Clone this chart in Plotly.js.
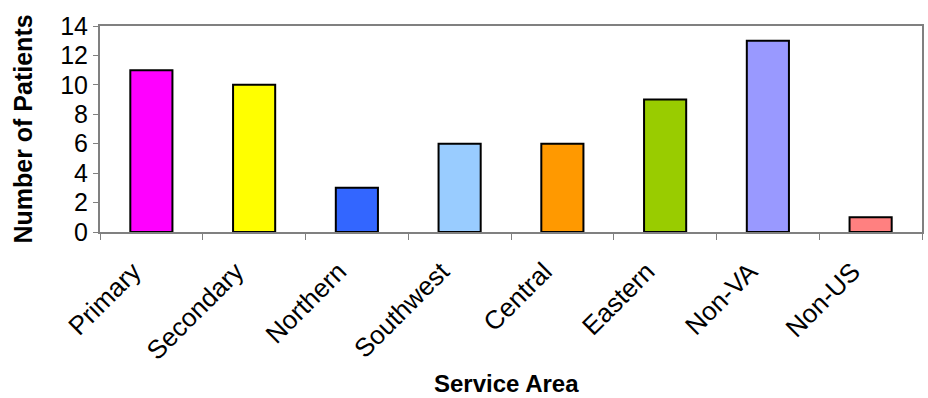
<!DOCTYPE html>
<html><head><meta charset="utf-8">
<script src="https://cdn.plot.ly/plotly-3.0.1.min.js"></script>
<style>html,body{margin:0;padding:0;background:#fff}#chart{width:928px;height:398px}</style>
</head><body><div id="chart"></div>
<script>
const categories = ["Primary","Secondary","Northern","Southwest","Central","Eastern","Non-VA","Non-US"];
const patients = [11,10,3,6,6,9,13,1];
const barColors = ["#FF00FF","#FFFF00","#3366FF","#99CCFF","#FF9900","#99CC00","#9999FF","#FF8080"];
const yTicks = [0,2,4,6,8,10,12,14];
const xTitle = "Service Area";
const yTitle = "Number of Patients";

const font = "Arial, 'Liberation Sans', sans-serif";
Plotly.newPlot("chart", [{
  type: "bar",
  x: categories,
  y: patients,
  width: 0.41,
  marker: {color: barColors, line: {color: "#000", width: 2}},
  hoverinfo: "x+y"
}], {
  width: 928, height: 398,
  margin: {l: 100, r: 6, t: 26, b: 165.5, pad: 0},
  paper_bgcolor: "#fff", plot_bgcolor: "#fff",
  showlegend: false,
  font: {family: font, color: "#000", size: 24},
  xaxis: {
    type: "category",
    tickangle: -45,
    tickson: "boundaries",
    ticks: "outside", ticklen: 6, tickcolor: "#808080", tickwidth: 1,
    showline: true, linecolor: "#808080", linewidth: 2, mirror: true,
    showgrid: false,
    tickfont: {size: 26, family: font},
    ticklabelstandoff: 12,
    ticklabelshift: -18
  },
  yaxis: {
    range: [0, 14],
    tickvals: yTicks,
    ticks: "outside", ticklen: 5, tickcolor: "#808080", tickwidth: 1,
    showline: true, linecolor: "#808080", linewidth: 2, mirror: true,
    showgrid: false, zeroline: false,
    tickfont: {size: 25, family: font},
    title: {text: "<b>" + yTitle + "</b>", font: {size: 25, family: font}, standoff: 20}
  },
  annotations: [{
    text: "<b>" + xTitle + "</b>",
    xref: "paper", yref: "paper", x: 0.495, y: -0.734,
    xanchor: "center", yanchor: "middle", showarrow: false, borderpad: 0,
    font: {size: 24, family: font, color: "#000"}
  }]
}, {displayModeBar: false, staticPlot: true});
</script></body></html>
